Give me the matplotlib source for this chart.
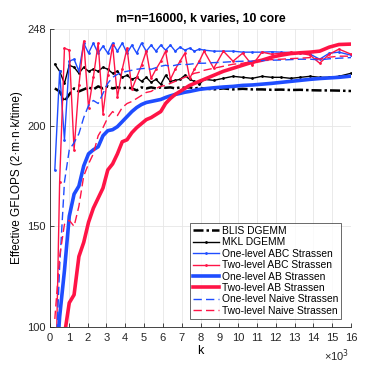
import matplotlib
matplotlib.use("Agg")
import matplotlib.pyplot as plt
import numpy as np

plt.rcParams['font.family'] = ['Liberation Sans', 'DejaVu Sans']

k = [256, 512, 768, 1024, 1280, 1536, 1792, 2048, 2304, 2560, 2816, 3072,
     3328, 3584, 3840, 4096, 4352, 4608, 4864, 5120, 5376, 5632, 5888, 6144,
     6400, 6656, 6912, 7168, 7424, 7680, 7936, 8192, 8704, 9216, 9728, 10240,
     10752, 11264, 11776, 12288, 12800, 13312, 13824, 14336, 14848, 15360, 16000]

blis = [218.5, 217, 212, 215.5, 218.5, 217, 218, 219, 218, 219.5, 218.5, 219.5,
        218.5, 219, 218.5, 219, 218.5, 217.5, 219, 218.5, 219, 218.5, 219, 218.8,
        219, 218.5, 219, 218.8, 219, 218.5, 218.8, 218.5, 218, 218.5, 218, 218.3,
        218, 218, 217.8, 217.9, 217.7, 217.8, 217.6, 217.5, 217.5, 217.4, 217.2]

mkl = [230.5, 227, 221, 230, 229, 226, 229, 227, 228, 227, 229, 228,
       226, 227, 224, 225, 223, 224, 222, 224, 221.5, 223, 220.5, 225,
       222, 222.5, 223, 225, 223, 222, 220.5, 223, 222.5, 223.5, 224.5, 224,
       223.5, 224.5, 224, 224, 223.5, 224, 224.5, 224, 224, 224.5, 226]

one_abc = [178, 227, 193, 232, 233, 227, 241, 236, 241, 236, 239.5, 236,
           241, 237, 241, 236, 240, 236, 241, 237, 240, 237, 240, 237.5,
           240, 237, 239, 237.5, 238.5, 237, 238, 237.5, 237, 237, 237, 236.5,
           236.5, 236.5, 236.7, 236.5, 236.3, 236, 235.5, 233, 236, 236.5, 235]

two_abc = [50, 172, 238.5, 237.5, 188, 220, 242, 209, 224, 241, 206, 225,
           240, 214, 228, 238.5, 218, 224, 230, 237, 223.5, 228, 232, 237,
           223, 228, 232, 236, 223.5, 228, 232, 237, 228.5, 237, 232, 236,
           230, 236.5, 235.5, 236, 236.5, 236, 235, 231, 235.5, 238, 235.5]

one_ab = [70, 105, 128, 155, 166, 170, 180, 186, 188, 189.5, 195, 197.5,
          198, 199.5, 202, 204.5, 207, 209, 210.5, 211.5, 212, 212.5, 213, 214,
          214.8, 215.5, 216, 216.6, 217, 217.5, 218, 218.3, 218.8, 219.2, 219.5, 220,
          220.2, 220.6, 221, 221.5, 222, 222.5, 223, 223.4, 223.7, 224, 224.6]

two_ab = [30, 60, 96, 112, 116, 135, 142, 152, 159, 164, 169, 178,
          181, 186, 192, 193, 196.5, 199, 201, 203, 204, 205.5, 207, 211,
          213.5, 215.5, 217, 218.5, 220, 221, 222, 223, 225, 227, 228.5, 230,
          231.5, 232.5, 234, 235, 235.8, 236.2, 236.5, 237, 239, 240.3, 240.5]

one_naive = [70, 130, 172, 188, 191.5, 196, 204, 210, 212.5, 211, 216, 221,
             224, 225.5, 226.5, 227, 227.5, 228, 228.3, 228.5, 228, 228.8, 229.5, 230,
             229.5, 230, 230.5, 230.3, 230.5, 230.8, 231, 231, 231.3, 231.5, 231.8, 232,
             232, 232.3, 232.5, 232.6, 232.8, 233, 233, 232.7, 233.2, 233.5, 233.8]

two_naive = [104, 135, 151, 153, 150, 160, 175, 181, 186, 195, 199, 204,
             207, 205, 209, 211, 212, 213.5, 215, 216.5, 217, 218.5, 219.5, 220,
             221, 222, 223, 224, 225, 226, 226.5, 227.5, 228.5, 229.5, 230.5, 231,
             231.8, 232.3, 232.8, 233, 233.3, 233.5, 233.8, 233, 234, 234.5, 234.5]

labels = ["BLIS DGEMM", "MKL DGEMM", "One-level ABC Strassen", "Two-level ABC Strassen",
          "One-level AB Strassen", "Two-level AB Strassen", "One-level Naive Strassen",
          "Two-level Naive Strassen"]

xticks = list(range(0, 17))
yticks = [100, 150, 200, 248]

BLUE = '#1f4dff'
RED = '#ff1446'

fig = plt.figure(figsize=(3.87, 3.69), dpi=100)
ax = fig.add_axes([50/387, 1-327/369, 301/387, 298/369])

ax.plot(k, blis, color='black', lw=1.8, ls=(0, (4, 1.2, 1, 1.2)), label=labels[0])
ax.plot(k, mkl, color='black', lw=1.0, marker='.', ms=2, label=labels[1])
ax.plot(k, one_abc, color=BLUE, lw=1.0, marker='.', ms=2, label=labels[2])
ax.plot(k, two_abc, color=RED, lw=1.0, marker='.', ms=2, label=labels[3])
ax.plot(k, one_ab, color=BLUE, lw=2.6, label=labels[4])
ax.plot(k, two_ab, color=RED, lw=2.6, label=labels[5])
ax.plot(k, one_naive, color=BLUE, lw=1.0, ls=(0, (6, 3)), label=labels[6])
ax.plot(k, two_naive, color=RED, lw=1.0, ls=(0, (6, 3)), label=labels[7])

ax.set_xlim(0, 16000)
ax.set_ylim(100, 248)
ax.set_xticks([t * 1000 for t in xticks])
ax.set_xticklabels([str(t) for t in xticks])
ax.set_yticks(yticks)
ax.set_yticklabels([str(t) for t in yticks])
ax.tick_params(direction='in', length=3, width=0.6, labelsize=8, colors='#262626')
ax.tick_params(axis='x', pad=4)
ax.tick_params(axis='y', pad=3)
ax.grid(True, color='#e6e6e6', lw=0.6)
ax.set_axisbelow(True)
for s in ['top', 'right']:
    ax.spines[s].set_visible(False)
for s in ['left', 'bottom']:
    ax.spines[s].set_linewidth(0.6)
    ax.spines[s].set_color('#262626')

ax.set_title("m=n=16000, k varies, 10 core", fontsize=8.8, fontweight='bold', pad=5)
ax.set_xlabel("k", fontsize=9, labelpad=2)
ax.set_ylabel("Effective GFLOPS (2\u00b7m\u00b7n\u00b7k/time)", fontsize=8.5, labelpad=3)
ax.text(0.995, -0.068, "\u00d710$^3$", transform=ax.transAxes, ha='right', va='top',
        fontsize=8, color='#262626')

leg = ax.legend(loc='lower right', fontsize=7.4, frameon=True, fancybox=False,
                handlelength=2.5, handletextpad=0.3, labelspacing=0.14,
                borderpad=0.3, borderaxespad=0.0, bbox_to_anchor=(0.967, 0.027))
leg.get_frame().set_edgecolor('#262626')
leg.get_frame().set_linewidth(0.6)

fig.savefig("out.png", dpi=100)
